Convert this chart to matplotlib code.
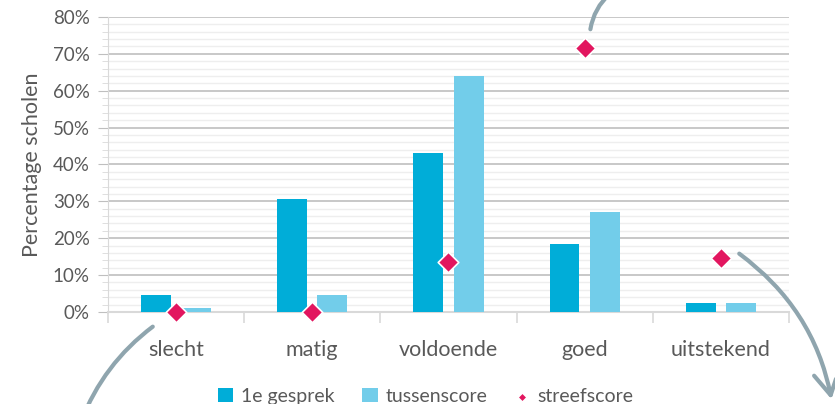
import matplotlib.pyplot as plt
import numpy as np
from matplotlib.patches import FancyArrowPatch
from matplotlib.ticker import MultipleLocator, PercentFormatter

categories = ["slecht", "matig", "voldoende", "goed", "uitstekend"]
gesprek = [4.7, 30.7, 43.1, 18.3, 2.3]
tussenscore = [1.1, 4.7, 64.0, 27.0, 2.3]
streefscore = [0.0, 0.0, 13.5, 71.5, 14.7]

plt.rcParams['font.family'] = ['Lato', 'DejaVu Sans']
grey = '#595959'

fig = plt.figure(figsize=(8.35, 4.04), dpi=100)
ax = fig.add_axes([0.129, 0.228, 0.816, 0.730])

x = np.arange(len(categories))
w = 0.22
b1 = ax.bar(x - 0.148, gesprek, w, color='#00ADD8', label='1e gesprek', zorder=3)
b2 = ax.bar(x + 0.148, tussenscore, w, color='#72CDEA', label='tussenscore', zorder=3)
sc = ax.scatter(x, streefscore, marker='D', s=110, color='#E2165F', edgecolor='white',
                linewidth=1.2, label='streefscore', zorder=5, clip_on=False)

ax.set_xlim(-0.5, len(categories) - 0.5)
ax.set_ylim(0, 80)
ax.yaxis.set_major_locator(MultipleLocator(10))
ax.yaxis.set_minor_locator(MultipleLocator(2))
ax.yaxis.set_major_formatter(PercentFormatter(decimals=0))
ax.grid(axis='y', which='major', color='#BFBFBF', linewidth=1.2, zorder=0)
ax.grid(axis='y', which='minor', color='#EEEEEE', linewidth=1.0, zorder=0)

ax.set_xticks(x)
ax.set_xticklabels(categories)
ax.set_xticks(np.arange(len(categories) + 1) - 0.5, minor=True)
ax.tick_params(axis='x', which='major', length=0, pad=20, labelsize=15.5, labelcolor=grey)
ax.tick_params(axis='x', which='minor', length=8, color='#D9D9D9', width=1.2)
ax.tick_params(axis='y', which='major', length=7, color='#BFBFBF', labelsize=13.5, labelcolor=grey, pad=6)
ax.tick_params(axis='y', which='minor', length=4, color='#D9D9D9')

for s in ['top', 'right']:
    ax.spines[s].set_visible(False)
ax.spines['left'].set_color('#D9D9D9')
ax.spines['bottom'].set_color('#D9D9D9')
ax.spines['bottom'].set_linewidth(1.5)
ax.set_ylabel('Percentage scholen', fontsize=15.5, color=grey, labelpad=8)

leg = fig.legend([b1, b2, sc], ['1e gesprek', 'tussenscore', 'streefscore'],
                 loc='lower center', bbox_to_anchor=(0.51, -0.045), ncol=3,
                 frameon=False, fontsize=14, handlelength=0.8, handletextpad=0.4,
                 columnspacing=1.4, markerscale=0.45)
for t in leg.get_texts():
    t.set_color(grey)

# decorative arrows
arrow_col = '#8FA5AE'
fig.patches.append(FancyArrowPatch((155 / 835, 1 - 325 / 404), (80 / 835, -0.05),
                                   transform=fig.transFigure, connectionstyle='arc3,rad=0.15',
                                   arrowstyle='-', color=arrow_col, lw=3))
fig.patches.append(FancyArrowPatch((590 / 835, 1 - 32 / 404), (612 / 835, 1.02),
                                   transform=fig.transFigure, connectionstyle='arc3,rad=-0.2',
                                   arrowstyle='-', color=arrow_col, lw=3))
fig.patches.append(FancyArrowPatch((737 / 835, 1 - 252 / 404), (832 / 835, 1 - 402 / 404),
                                   transform=fig.transFigure, connectionstyle='arc3,rad=-0.2',
                                   arrowstyle='->,head_length=16,head_width=9', color=arrow_col, lw=3))

fig.savefig('out.png', dpi=100)
